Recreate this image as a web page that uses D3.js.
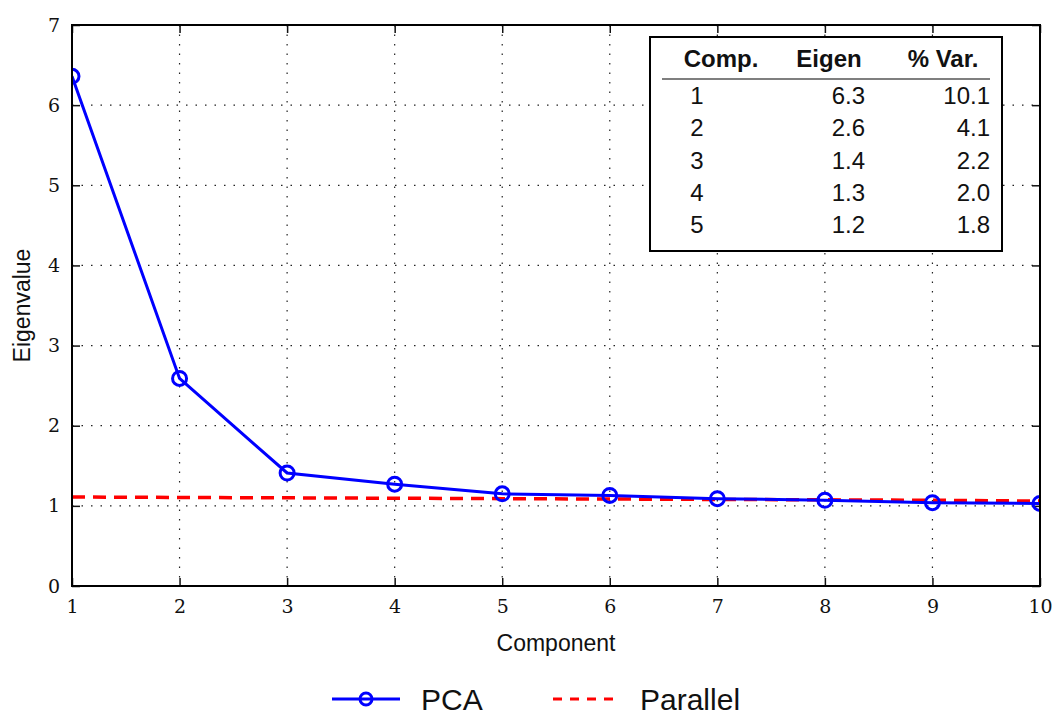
<!DOCTYPE html>
<html>
<head>
<meta charset="utf-8">
<script src="https://cdn.jsdelivr.net/npm/d3@7"></script>
<style>
  body { margin: 0; background: #fff; }
  svg { display: block; }
</style>
</head>
<body>
<svg id="chart" width="1053" height="715"></svg>
<script>
// data
const components = [1, 2, 3, 4, 5, 6, 7, 8, 9, 10];
const pcaValues = [6.36, 2.59, 1.41, 1.27, 1.15, 1.13, 1.09, 1.07, 1.04, 1.03];
const parallelValues = [1.11, 1.105, 1.10, 1.095, 1.09, 1.085, 1.08, 1.075, 1.07, 1.06];
const yTicks = [0, 1, 2, 3, 4, 5, 6, 7];

const tableHeader = ["Comp.", "Eigen", "% Var."];
const tableComp = ["1", "2", "3", "4", "5"];
const tableEigen = ["6.3", "2.6", "1.4", "1.3", "1.2"];
const tableVar = ["10.1", "4.1", "2.2", "2.0", "1.8"];

const margin = { left: 72, right: 13, top: 25, bottom: 129 };
const width = 1053 - margin.left - margin.right;
const height = 715 - margin.top - margin.bottom;

const svg = d3.select("#chart");
const g = svg.append("g").attr("transform", `translate(${margin.left},${margin.top})`);

const x = d3.scaleLinear().domain([1, 10]).range([0, width]);
const y = d3.scaleLinear().domain([0, 7]).range([height, 0]);

svg.append("defs").append("clipPath").attr("id", "plotClip")
  .append("rect").attr("width", width).attr("height", height);

// grid
g.append("g").selectAll("line").data(components.slice(1, -1)).enter().append("line")
  .attr("x1", d => x(d)).attr("x2", d => x(d)).attr("y1", 0).attr("y2", height)
  .attr("stroke", "#222").attr("stroke-width", 1.2).attr("stroke-dasharray", "1.5,8");
g.append("g").selectAll("line").data(yTicks.slice(1, -1)).enter().append("line")
  .attr("x1", 0).attr("x2", width).attr("y1", d => y(d)).attr("y2", d => y(d))
  .attr("stroke", "#222").attr("stroke-width", 1.2).attr("stroke-dasharray", "1.5,8");

// axes (inward ticks)
const tickFont = "'DejaVu Serif', 'Liberation Serif', serif";
const xAxis = g.append("g").attr("transform", `translate(0,${height})`)
  .call(d3.axisBottom(x).tickValues(components).tickSize(-8).tickPadding(14).tickFormat(d3.format("d")));
const xAxisTop = g.append("g")
  .call(d3.axisTop(x).tickValues(components).tickSize(-8).tickFormat(""));
const yAxis = g.append("g")
  .call(d3.axisLeft(y).tickValues(yTicks).tickSize(-8).tickPadding(12).tickFormat(d3.format("d")));
const yAxisRight = g.append("g").attr("transform", `translate(${width},0)`)
  .call(d3.axisRight(y).tickValues(yTicks).tickSize(-8).tickFormat(""));
[xAxis, xAxisTop, yAxis, yAxisRight].forEach(a => {
  a.select(".domain").remove();
  a.selectAll(".tick line").attr("stroke", "#111").attr("stroke-width", 1.5);
  a.selectAll("text").attr("font-family", tickFont).attr("font-size", 19).attr("fill", "#111");
});

const plot = g.append("g").attr("clip-path", "url(#plotClip)");

// parallel line
plot.append("path").datum(components)
  .attr("fill", "none").attr("stroke", "#ff0000").attr("stroke-width", 3.5)
  .attr("stroke-dasharray", "13,8")
  .attr("d", d3.line().x(d => x(d)).y((d, i) => y(parallelValues[i])));

// pca line
plot.append("path").datum(components)
  .attr("fill", "none").attr("stroke", "#0000ff").attr("stroke-width", 3)
  .attr("d", d3.line().x(d => x(d)).y((d, i) => y(pcaValues[i])));
plot.selectAll("circle.pca").data(components).enter().append("circle")
  .attr("class", "pca")
  .attr("cx", d => x(d)).attr("cy", (d, i) => y(pcaValues[i])).attr("r", 7)
  .attr("fill", "none").attr("stroke", "#0000ff").attr("stroke-width", 3);

// frame
g.append("rect").attr("width", width).attr("height", height)
  .attr("fill", "none").attr("stroke", "#000").attr("stroke-width", 2);

// axis titles
const labelFont = "'Liberation Sans', Arial, sans-serif";
svg.append("text").attr("x", margin.left + width / 2).attr("y", 651)
  .attr("text-anchor", "middle").attr("font-family", labelFont).attr("font-size", 23)
  .attr("fill", "#111").text("Component");
svg.append("text").attr("transform", `translate(30,${margin.top + height / 2}) rotate(-90)`)
  .attr("text-anchor", "middle").attr("font-family", labelFont).attr("font-size", 23)
  .attr("fill", "#111").text("Eigenvalue");

// table inset
const tbl = svg.append("g").attr("transform", "translate(650,37)");
tbl.append("rect").attr("width", 352).attr("height", 214)
  .attr("fill", "#fff").attr("stroke", "#000").attr("stroke-width", 2);
const fs = 24;
const headX = [71, 179, 293];
tableHeader.forEach((h, i) => {
  tbl.append("text").attr("x", headX[i]).attr("y", 30).attr("text-anchor", "middle")
    .attr("font-family", labelFont).attr("font-size", fs).attr("font-weight", "bold")
    .attr("fill", "#111").text(h);
});
tbl.append("line").attr("x1", 12).attr("x2", 340).attr("y1", 42).attr("y2", 42)
  .attr("stroke", "#000").attr("stroke-width", 1.2);
const rowY = d3.scaleLinear().domain([0, 4]).range([67, 196]);
tableComp.forEach((c, i) => {
  const ty = rowY(i);
  tbl.append("text").attr("x", 47).attr("y", ty).attr("text-anchor", "middle")
    .attr("font-family", labelFont).attr("font-size", fs).attr("fill", "#111").text(c);
  tbl.append("text").attr("x", 215).attr("y", ty).attr("text-anchor", "end")
    .attr("font-family", labelFont).attr("font-size", fs).attr("fill", "#111").text(tableEigen[i]);
  tbl.append("text").attr("x", 340).attr("y", ty).attr("text-anchor", "end")
    .attr("font-family", labelFont).attr("font-size", fs).attr("fill", "#111").text(tableVar[i]);
});

// legend
const leg = svg.append("g").attr("transform", "translate(0,699)");
leg.append("line").attr("x1", 332).attr("x2", 400).attr("y1", 0).attr("y2", 0)
  .attr("stroke", "#0000ff").attr("stroke-width", 3);
leg.append("circle").attr("cx", 366).attr("cy", 0).attr("r", 6)
  .attr("fill", "none").attr("stroke", "#0000ff").attr("stroke-width", 3);
leg.append("text").attr("x", 421).attr("y", 11).attr("font-family", labelFont)
  .attr("font-size", 30).attr("fill", "#111").text("PCA");
leg.append("line").attr("x1", 553).attr("x2", 613).attr("y1", 0).attr("y2", 0)
  .attr("stroke", "#ff0000").attr("stroke-width", 3).attr("stroke-dasharray", "9,8");
leg.append("text").attr("x", 640).attr("y", 11).attr("font-family", labelFont)
  .attr("font-size", 30).attr("fill", "#111").text("Parallel");
</script>
</body>
</html>
